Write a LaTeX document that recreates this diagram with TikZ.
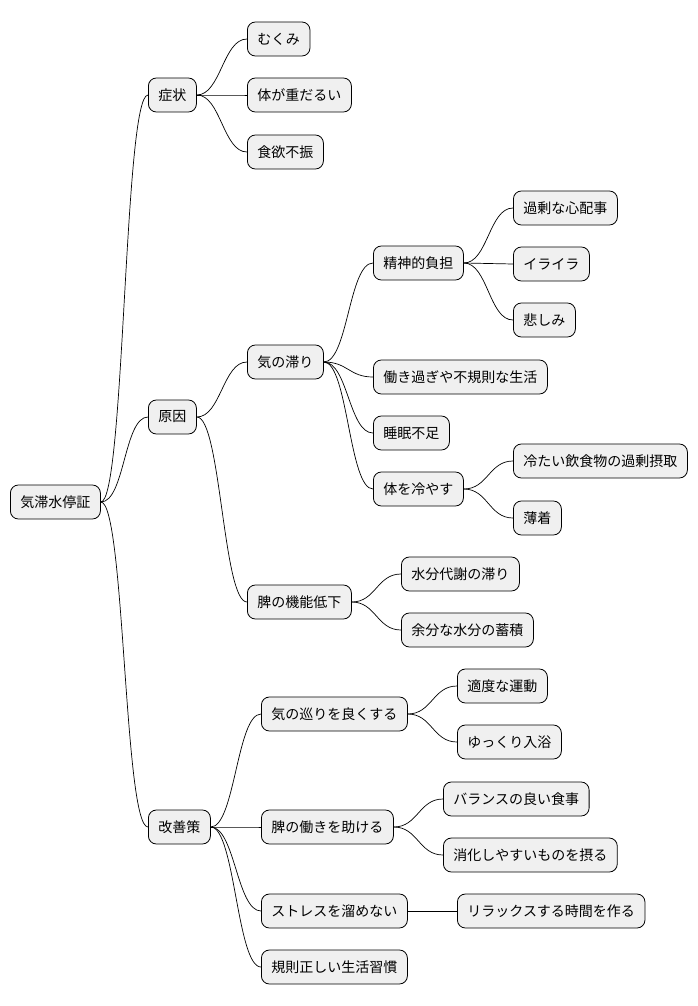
\documentclass[tikz,border=0pt]{standalone}
\usepackage{fontspec}
\setmainfont{Noto Sans CJK JP}
\begin{document}
\begin{tikzpicture}[x=1pt,y=-1pt,
  nd/.style={draw=black,fill=black!6,rounded corners=8pt,line width=0.8pt,minimum height=34pt,inner xsep=10pt,inner ysep=0pt,font=\fontsize{14pt}{16pt}\selectfont,anchor=west},
  ed/.style={line width=0.7pt}]
\useasboundingbox (0,0) rectangle (698,1006);
\node[nd] (r) at (10,502) {気滞水停証};
\node[nd] (a) at (148,95) {症状};
\node[nd] (a1) at (247,39) {むくみ};
\node[nd] (a2) at (247,95) {体が重だるい};
\node[nd] (a3) at (247,152) {食欲不振};
\node[nd] (b) at (148,417) {原因};
\node[nd] (b1) at (247,362) {気の滞り};
\node[nd] (c1) at (373,263) {精神的負担};
\node[nd] (d1) at (513,208) {過剰な心配事};
\node[nd] (d2) at (513,264) {イライラ};
\node[nd] (d3) at (513,320) {悲しみ};
\node[nd] (c2) at (373,377) {働き過ぎや不規則な生活};
\node[nd] (c3) at (373,433) {睡眠不足};
\node[nd] (c4) at (373,489) {体を冷やす};
\node[nd] (e1) at (513,461) {冷たい飲食物の過剰摂取};
\node[nd] (e2) at (513,518) {薄着};
\node[nd] (b2) at (247,602) {脾の機能低下};
\node[nd] (f1) at (401,574) {水分代謝の滞り};
\node[nd] (f2) at (401,630) {余分な水分の蓄積};
\node[nd] (g) at (148,827) {改善策};
\node[nd] (g1) at (261,714) {気の巡りを良くする};
\node[nd] (h1) at (457,686) {適度な運動};
\node[nd] (h2) at (457,742) {ゆっくり入浴};
\node[nd] (g2) at (261,827) {脾の働きを助ける};
\node[nd] (i1) at (443,799) {バランスの良い食事};
\node[nd] (i2) at (443,855) {消化しやすいものを摂る};
\node[nd] (g3) at (261,911) {ストレスを溜めない};
\node[nd] (j1) at (457,911) {リラックスする時間を作る};
\node[nd] (g4) at (261,967) {規則正しい生活習慣};
\foreach \p/\c in {r/a,r/b,r/g,a/a1,a/a2,a/a3,b/b1,b/b2,b1/c1,b1/c2,b1/c3,b1/c4,c1/d1,c1/d2,c1/d3,c4/e1,c4/e2,b2/f1,b2/f2,g/g1,g/g2,g/g3,g/g4,g1/h1,g1/h2,g2/i1,g2/i2,g3/j1}
  \draw[ed] (\p.east) .. controls +(24,0) and +(-24,0) .. (\c.west);
\end{tikzpicture}
\end{document}
